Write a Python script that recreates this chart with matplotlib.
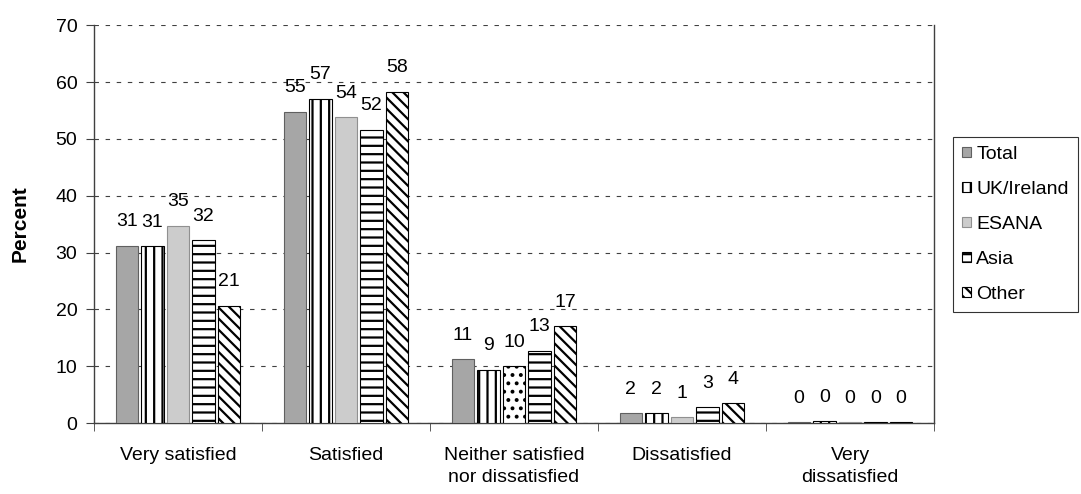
import matplotlib
matplotlib.use("Agg")
import matplotlib.pyplot as plt
import numpy as np

plt.rcParams['font.family'] = ['Liberation Sans', 'DejaVu Sans']
plt.rcParams['hatch.linewidth'] = 1.6

categories = ["Very satisfied", "Satisfied", "Neither satisfied\nnor dissatisfied",
              "Dissatisfied", "Very\ndissatisfied"]
series_names = ["Total", "UK/Ireland", "ESANA", "Asia", "Other"]
total = [31.2, 54.8, 11.2, 1.7, 0.1]
uk_ireland = [31.1, 57.1, 9.4, 1.7, 0.3]
esana = [34.7, 53.8, 10.0, 1.0, 0.1]
asia = [32.2, 51.6, 12.7, 2.8, 0.1]
other = [20.6, 58.3, 17.0, 3.5, 0.1]
labels = [[31, 55, 11, 2, 0],
          [31, 57, 9, 2, 0],
          [35, 54, 10, 1, 0],
          [32, 52, 13, 3, 0],
          [21, 58, 17, 4, 0]]
series = [total, uk_ireland, esana, asia, other]

styles = [
    dict(facecolor='#a6a6a6', edgecolor='#606060', hatch=None),
    dict(facecolor='white', edgecolor='black', hatch='||'),
    dict(facecolor='#cccccc', edgecolor='#909090', hatch=None),
    dict(facecolor='white', edgecolor='black', hatch='--'),
    dict(facecolor='white', edgecolor='black', hatch='\\\\\\'),
]

FS = 14

fig = plt.figure(figsize=(10.81, 4.94), dpi=100)
ax = fig.add_axes([0.087, 0.1437, 0.777, 0.8053])

x = np.arange(len(categories))
pitch = 0.152
width = 0.135
handles = []
for i, (vals, name, st) in enumerate(zip(series, series_names, styles)):
    pos = x + (i - 2) * pitch
    bars = ax.bar(pos, vals, width=width, facecolor=st['facecolor'],
                  edgecolor=st['edgecolor'], hatch=st['hatch'], linewidth=0.8,
                  label=name, zorder=3)
    handles.append(bars)
    for j, (p, v) in enumerate(zip(pos, vals)):
        ax.annotate(str(labels[i][j]), xy=(p, v), xytext=(0, 14),
                    textcoords='offset points', ha='center', va='baseline',
                    fontsize=FS, color='black', zorder=4)

# dotted pattern on ESANA "Neither" bar as in reference
b = handles[2].patches[2]
b.set_facecolor('white')
b.set_edgecolor('black')
b.set_hatch('..')

ax.set_xlim(-0.5, 4.5)
ax.set_ylim(0, 70)
ax.set_yticks(np.arange(0, 71, 10))
ax.set_xticks(x)
ax.set_xticklabels(categories, fontsize=FS, linespacing=1.45)
ax.set_xticks(np.arange(-0.5, 5.0, 1.0), minor=True)
ax.tick_params(axis='x', which='major', length=0, pad=17)
ax.tick_params(axis='x', which='minor', length=6, direction='out', color='#404040')
ax.tick_params(axis='y', labelsize=FS, length=6, direction='out', pad=6, color='#404040')
ax.set_ylabel("Percent", fontsize=15, fontweight='bold')
ax.yaxis.set_label_coords(-0.077, 0.5)

ax.yaxis.grid(True, linestyle=(0, (4, 6)), color='#404040', linewidth=0.8, zorder=0)
ax.set_axisbelow(True)
ax.spines['top'].set_visible(False)
for s in ['left', 'bottom', 'right']:
    ax.spines[s].set_color('#404040')
    ax.spines[s].set_linewidth(1.0)

leg = fig.legend(handles=handles, labels=series_names, loc='upper left',
                 bbox_to_anchor=(0.8816, 0.7227), frameon=True, fancybox=False,
                 edgecolor='black', fontsize=FS, handlelength=0.45, handleheight=0.45,
                 handletextpad=0.3, labelspacing=0.93, borderpad=0.45,
                 borderaxespad=0)
leg.get_frame().set_linewidth(0.8)

fig.savefig("out.png", dpi=100)
